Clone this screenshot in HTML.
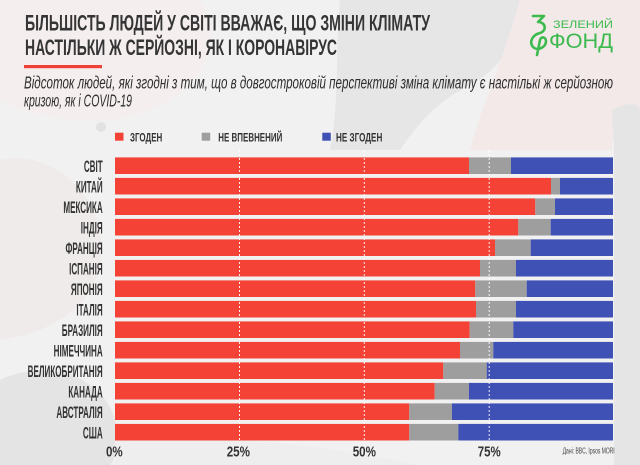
<!DOCTYPE html>
<html>
<head>
<meta charset="utf-8">
<style>
  html,body{margin:0;padding:0;background:#f2f1f1;}
  svg{display:block;}
  .t{font-family:"Liberation Sans","Noto Sans CJK SC",sans-serif;}
</style>
</head>
<body>
<svg width="640" height="465" viewBox="0 0 640 465" xmlns="http://www.w3.org/2000/svg">
  <!-- background -->
  <rect x="0" y="0" width="640" height="465" fill="#f2f1f1"/>
  <path d="M340,0 L520,0 C520,40 500,70 470,85 C440,100 420,120 400,150 L330,150 C340,100 335,50 340,0 Z" fill="#e7e6e6"/>
  <path d="M520,0 L640,0 L640,110 C620,120 610,140 612,150 L470,150 C480,110 500,70 520,0 Z" fill="#f3e9e9"/>
  <path d="M612,110 C630,100 640,105 640,110 L640,465 L614,465 L614,150 Z" fill="#e6e5e5"/>
  <path d="M0,0 L200,0 C230,40 200,90 150,110 C100,130 40,120 0,100 Z" fill="#f4eeee"/>
  <path d="M0,160 C40,150 90,180 100,230 C110,290 70,330 0,340 Z" fill="#f0ebeb"/>
  <path d="M0,380 C40,360 100,370 115,420 C120,445 115,460 110,465 L0,465 Z" fill="#e5e4e4"/>
  <path d="M115,440 C200,430 320,445 420,465 L115,465 Z" fill="#efeeee"/>
  <circle cx="101" cy="127" r="5" fill="#e3e2e2"/>

  <!-- title -->
  <text class="t" x="25" y="30.7" font-size="22.5" font-weight="bold" fill="#353535" textLength="405" lengthAdjust="spacingAndGlyphs">БІЛЬШІСТЬ ЛЮДЕЙ У СВІТІ ВВАЖАЄ, ЩО ЗМІНИ КЛІМАТУ</text>
  <text class="t" x="25" y="55" font-size="22.5" font-weight="bold" fill="#353535" textLength="312" lengthAdjust="spacingAndGlyphs">НАСТІЛЬКИ Ж СЕРЙОЗНІ, ЯК І КОРОНАВІРУС</text>
  <rect x="24" y="65" width="78" height="3.2" fill="#ef4136"/>

  <!-- subtitle -->
  <text class="t" x="24" y="88.5" font-size="17.5" font-style="italic" fill="#2e2e2e" textLength="589" lengthAdjust="spacingAndGlyphs">Відсоток людей, які згодні з тим, що в довгостроковій перспективі зміна клімату є настількі ж серйозною</text>
  <text class="t" x="24" y="106.5" font-size="17.5" font-style="italic" fill="#2e2e2e" textLength="108" lengthAdjust="spacingAndGlyphs">кризою, як і COVID-19</text>

  <!-- logo -->
  <g fill="none" stroke="#3dba4e" stroke-width="2.6" stroke-linecap="round" stroke-linejoin="round">
    <path d="M533,16 L544,16 L538,22 C546,22 547,31 540,33 C532,35 529,42 533,47 C537,51 546,48 546,41 C546,37 541,36 540,40 L537,55"/>
  </g>
  <text class="t" x="553" y="28" font-size="11" fill="#3dba4e" textLength="60" lengthAdjust="spacingAndGlyphs">ЗЕЛЕНИЙ</text>
  <text class="t" x="549" y="48" font-size="21" fill="#3dba4e" textLength="64" lengthAdjust="spacingAndGlyphs">ФОНД</text>

  <!-- legend -->
  <rect x="115" y="132.7" width="8.5" height="8" fill="#f44336"/>
  <text class="t" x="130" y="141.7" font-size="12.3" font-weight="bold" fill="#333" textLength="32.3" lengthAdjust="spacingAndGlyphs">ЗГОДЕН</text>
  <rect x="201.7" y="132.7" width="8.5" height="8" fill="#9e9e9e"/>
  <text class="t" x="218.3" y="141.7" font-size="12.3" font-weight="bold" fill="#333" textLength="64" lengthAdjust="spacingAndGlyphs">НЕ ВПЕВНЕНИЙ</text>
  <rect x="322.3" y="132.7" width="8.5" height="8" fill="#3f51b5"/>
  <text class="t" x="336" y="141.7" font-size="12.3" font-weight="bold" fill="#333" textLength="46.3" lengthAdjust="spacingAndGlyphs">НЕ ЗГОДЕН</text>

  <!-- bars -->
  <g>
    <rect x="115" y="157.4" width="354" height="16.6" fill="#f44336"/><rect x="469" y="157.4" width="42" height="16.6" fill="#9e9e9e"/><rect x="511" y="157.4" width="102" height="16.6" fill="#3f51b5"/>
    <rect x="115" y="177.9" width="436" height="16.6" fill="#f44336"/><rect x="551" y="177.9" width="9" height="16.6" fill="#9e9e9e"/><rect x="560" y="177.9" width="53" height="16.6" fill="#3f51b5"/>
    <rect x="115" y="198.4" width="420.3" height="16.6" fill="#f44336"/><rect x="535.3" y="198.4" width="19.7" height="16.6" fill="#9e9e9e"/><rect x="555" y="198.4" width="58" height="16.6" fill="#3f51b5"/>
    <rect x="115" y="218.9" width="403.3" height="16.6" fill="#f44336"/><rect x="518.3" y="218.9" width="32.4" height="16.6" fill="#9e9e9e"/><rect x="550.7" y="218.9" width="62.3" height="16.6" fill="#3f51b5"/>
    <rect x="115" y="239.4" width="380" height="16.6" fill="#f44336"/><rect x="495" y="239.4" width="35.7" height="16.6" fill="#9e9e9e"/><rect x="530.7" y="239.4" width="82.3" height="16.6" fill="#3f51b5"/>
    <rect x="115" y="259.9" width="365" height="16.6" fill="#f44336"/><rect x="480" y="259.9" width="36" height="16.6" fill="#9e9e9e"/><rect x="516" y="259.9" width="97" height="16.6" fill="#3f51b5"/>
    <rect x="115" y="280.4" width="360.3" height="16.6" fill="#f44336"/><rect x="475.3" y="280.4" width="51.4" height="16.6" fill="#9e9e9e"/><rect x="526.7" y="280.4" width="86.3" height="16.6" fill="#3f51b5"/>
    <rect x="115" y="300.9" width="361" height="16.6" fill="#f44336"/><rect x="476" y="300.9" width="40" height="16.6" fill="#9e9e9e"/><rect x="516" y="300.9" width="97" height="16.6" fill="#3f51b5"/>
    <rect x="115" y="321.4" width="354.7" height="16.6" fill="#f44336"/><rect x="469.7" y="321.4" width="43.6" height="16.6" fill="#9e9e9e"/><rect x="513.3" y="321.4" width="99.7" height="16.6" fill="#3f51b5"/>
    <rect x="115" y="341.9" width="345" height="16.6" fill="#f44336"/><rect x="460" y="341.9" width="33.3" height="16.6" fill="#9e9e9e"/><rect x="493.3" y="341.9" width="119.7" height="16.6" fill="#3f51b5"/>
    <rect x="115" y="362.4" width="328.3" height="16.6" fill="#f44336"/><rect x="443.3" y="362.4" width="43.4" height="16.6" fill="#9e9e9e"/><rect x="486.7" y="362.4" width="126.3" height="16.6" fill="#3f51b5"/>
    <rect x="115" y="382.9" width="319.7" height="16.6" fill="#f44336"/><rect x="434.7" y="382.9" width="34.3" height="16.6" fill="#9e9e9e"/><rect x="469" y="382.9" width="144" height="16.6" fill="#3f51b5"/>
    <rect x="115" y="403.4" width="294.3" height="16.6" fill="#f44336"/><rect x="409.3" y="403.4" width="42.7" height="16.6" fill="#9e9e9e"/><rect x="452" y="403.4" width="161" height="16.6" fill="#3f51b5"/>
    <rect x="115" y="423.9" width="294.3" height="16.6" fill="#f44336"/><rect x="409.3" y="423.9" width="49" height="16.6" fill="#9e9e9e"/><rect x="458.3" y="423.9" width="154.7" height="16.6" fill="#3f51b5"/>
  </g>

  <!-- gridlines -->
  <g stroke="#ffffff" stroke-opacity="0.9" stroke-width="1" stroke-dasharray="2,2">
    <line x1="239.5" y1="150" x2="239.5" y2="442"/>
    <line x1="364.3" y1="150" x2="364.3" y2="442"/>
    <line x1="489.2" y1="150" x2="489.2" y2="442"/>
  </g>

  <!-- country labels -->
  <g class="t" font-size="16.5" font-weight="bold" fill="#333" text-anchor="end">
    <g transform="translate(102.7,0) scale(0.49,1)">
      <text x="0" y="172">СВІТ</text>
      <text x="0" y="192.5">КИТАЙ</text>
      <text x="0" y="213">МЕКСИКА</text>
      <text x="0" y="233.5">ІНДІЯ</text>
      <text x="0" y="254">ФРАНЦІЯ</text>
      <text x="0" y="274.5">ІСПАНІЯ</text>
      <text x="0" y="295">ЯПОНІЯ</text>
      <text x="0" y="315.5">ІТАЛІЯ</text>
      <text x="0" y="336">БРАЗИЛІЯ</text>
      <text x="0" y="356.5">НІМЕЧЧИНА</text>
      <text x="0" y="377">ВЕЛИКОБРИТАНІЯ</text>
      <text x="0" y="397.5">КАНАДА</text>
      <text x="0" y="418">АВСТРАЛІЯ</text>
      <text x="0" y="438.5">США</text>
    </g>
  </g>

  <!-- axis tick labels -->
  <g class="t" font-size="15" font-weight="bold" fill="#333">
    <text x="106" y="456.5" textLength="16.7" lengthAdjust="spacingAndGlyphs">0%</text>
    <text x="226.7" y="456.5" textLength="23.3" lengthAdjust="spacingAndGlyphs">25%</text>
    <text x="352.7" y="456.5" textLength="23.3" lengthAdjust="spacingAndGlyphs">50%</text>
    <text x="477.7" y="456.5" textLength="23" lengthAdjust="spacingAndGlyphs">75%</text>
  </g>

  <!-- source -->
  <text class="t" x="562.7" y="453.5" font-size="8" fill="#444" textLength="52" lengthAdjust="spacingAndGlyphs">Дані: BBC, Ipsos MORI</text>
</svg>
</body>
</html>
